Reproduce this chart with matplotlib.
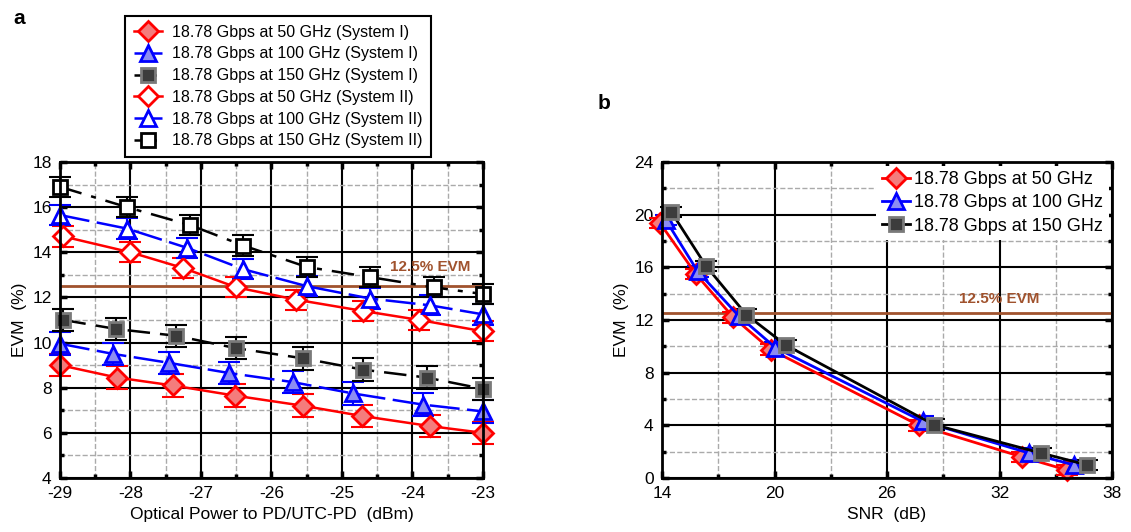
import matplotlib
matplotlib.use("Agg")
import matplotlib.pyplot as plt
from matplotlib.ticker import MultipleLocator

plt.rcParams['font.family'] = ['Liberation Sans', 'DejaVu Sans']
plt.rcParams['axes.unicode_minus'] = False

# ---- panel a data (optical power vs EVM) ----
x_sys1_50 = [-29.0, -28.19, -27.4, -26.52, -25.55, -24.72, -23.75, -23.0]
x_sys1_100 = [-29.0, -28.25, -27.45, -26.6, -25.7, -24.85, -23.85, -23.0]
x_sys1_150 = [-28.95, -28.2, -27.35, -26.5, -25.55, -24.7, -23.8, -23.0]
x_sys2_50 = [-28.95, -28.0, -27.25, -26.5, -25.65, -24.7, -23.9, -23.0]
x_sys2_100 = [-29.0, -28.05, -27.2, -26.4, -25.5, -24.6, -23.75, -23.0]
x_sys2_150 = [-29.0, -28.05, -27.15, -26.4, -25.5, -24.6, -23.7, -23.0]

evm_sys1_50 = [9.0, 8.45, 8.1, 7.65, 7.2, 6.75, 6.3, 6.0]
evm_sys1_100 = [9.95, 9.5, 9.1, 8.65, 8.25, 7.75, 7.25, 6.95]
evm_sys1_150 = [11.0, 10.6, 10.3, 9.75, 9.3, 8.8, 8.45, 7.95]
evm_sys2_50 = [14.7, 14.0, 13.3, 12.45, 11.9, 11.4, 11.0, 10.5]
evm_sys2_100 = [15.65, 15.05, 14.2, 13.25, 12.5, 11.95, 11.65, 11.25]
evm_sys2_150 = [16.9, 16.0, 15.2, 14.3, 13.35, 12.9, 12.45, 12.15]

err_sys1 = 0.5
err_sys2 = 0.45

# ---- panel b data (SNR vs EVM) ----
snr_50 = [13.9, 15.8, 17.8, 19.8, 27.7, 33.2, 35.6]
snr_100 = [14.2, 15.9, 18.1, 20.05, 27.9, 33.55, 35.95]
snr_150 = [14.5, 16.35, 18.5, 20.6, 28.5, 34.2, 36.65]
evmb_50 = [19.35, 15.5, 12.2, 9.75, 4.0, 1.6, 0.6]
evmb_100 = [19.6, 15.7, 12.3, 9.9, 4.3, 1.9, 1.0]
evmb_150 = [20.2, 16.1, 12.4, 10.1, 4.05, 1.9, 1.0]
err_b = 0.4

snr_ticks = [14, 20, 26, 32, 38]
snr_minor = [17, 23, 29, 35]

evm_limit = 12.5

RED = '#ff0000'
BLUE = '#0000ff'
BROWN = '#a0522d'
SQ_FILL = '#3c3c3c'
SQ_EDGE = '#7a7a7a'

fig = plt.figure(figsize=(11.31, 5.32), dpi=100)
ax1 = fig.add_axes([0.053, 0.1015, 0.374, 0.594])
ax2 = fig.add_axes([0.5853, 0.1015, 0.398, 0.594])


def style_axes(ax):
    ax.grid(which='major', color='black', linestyle='-', linewidth=1.5)
    ax.grid(which='minor', color='#aaaaaa', linestyle='--', linewidth=1)
    ax.set_axisbelow(True)
    ax.tick_params(which='both', direction='in', top=True, right=True,
                   width=2.5, labelsize=12.5, pad=6)
    ax.tick_params(which='major', length=5)
    ax.tick_params(which='minor', length=3)
    for s in ax.spines.values():
        s.set_linewidth(2)
        s.set_zorder(6)


def series(ax, x, y, err, marker, ms, fc, ec, lc, ls, label, lw=1.8):
    ax.errorbar(x, y, yerr=err, fmt='none', ecolor=lc, elinewidth=1.5,
                capsize=8, capthick=1.5, zorder=3, clip_on=False)
    ax.plot(x, y, marker=marker, ms=ms, mfc=fc, mec=ec, mew=2, color=lc,
            linestyle=ls, linewidth=lw, label=label, zorder=4, clip_on=False)


# panel a
series(ax1, x_sys1_50, evm_sys1_50, err_sys1, 'D', 10.5, '#f47c7c', RED, RED, '-',
       '18.78 Gbps at 50 GHz (System I)')
series(ax1, x_sys1_100, evm_sys1_100, err_sys1, '^', 12, '#8c8cf2', BLUE, BLUE, (0, (12, 3)),
       '18.78 Gbps at 100 GHz (System I)')
series(ax1, x_sys1_150, evm_sys1_150, err_sys1, 's', 10, SQ_FILL, SQ_EDGE, 'black', (0, (9, 4)),
       '18.78 Gbps at 150 GHz (System I)')
series(ax1, x_sys2_50, evm_sys2_50, err_sys2, 'D', 10.5, 'white', RED, RED, '-',
       '18.78 Gbps at 50 GHz (System II)')
series(ax1, x_sys2_100, evm_sys2_100, err_sys2, '^', 12, 'white', BLUE, BLUE, (0, (12, 3)),
       '18.78 Gbps at 100 GHz (System II)')
series(ax1, x_sys2_150, evm_sys2_150, err_sys2, 's', 10, 'white', 'black', 'black', (0, (9, 4, 2, 4)),
       '18.78 Gbps at 150 GHz (System II)')

ax1.axhline(evm_limit, color=BROWN, linewidth=2, zorder=2)
ax1.text(-23.75, 13.35, '12.5% EVM', color=BROWN, fontsize=11, fontweight='bold',
         ha='center', va='center')

ax1.set_xlim(-29, -23)
ax1.set_ylim(4, 18)
ax1.xaxis.set_major_locator(MultipleLocator(1))
ax1.xaxis.set_minor_locator(MultipleLocator(0.5))
ax1.yaxis.set_major_locator(MultipleLocator(2))
ax1.yaxis.set_minor_locator(MultipleLocator(1))
style_axes(ax1)
ax1.set_xlabel('Optical Power to PD/UTC-PD  (dBm)', fontsize=12.5)
ax1.set_ylabel('EVM  (%)', fontsize=12.5)

h, l = ax1.get_legend_handles_labels()
leg1 = fig.legend(h, l, loc='upper left', bbox_to_anchor=(0.1034, 0.985),
                  fontsize=11.5, handlelength=1.8, handletextpad=0.6,
                  labelspacing=0.42, borderpad=0.55, fancybox=False,
                  edgecolor='black', framealpha=1)
leg1.get_frame().set_linewidth(1.5)

# panel b
series(ax2, snr_50, evmb_50, err_b, 'D', 10.5, '#f47c7c', RED, RED, '-', '18.78 Gbps at 50 GHz', lw=2)
series(ax2, snr_100, evmb_100, err_b, '^', 12, '#8c8cf2', BLUE, BLUE, '-', '18.78 Gbps at 100 GHz', lw=2)
series(ax2, snr_150, evmb_150, err_b, 's', 10, SQ_FILL, SQ_EDGE, 'black', '-', '18.78 Gbps at 150 GHz', lw=2)

ax2.axhline(evm_limit, color=BROWN, linewidth=2, zorder=2)
ax2.text(32, 13.6, '12.5% EVM', color=BROWN, fontsize=11, fontweight='bold',
         ha='center', va='center')

ax2.set_xlim(14, 38)
ax2.set_ylim(0, 24)
ax2.set_xticks(snr_ticks)
ax2.set_xticks(snr_minor, minor=True)
ax2.yaxis.set_major_locator(MultipleLocator(4))
ax2.yaxis.set_minor_locator(MultipleLocator(2))
style_axes(ax2)
ax2.set_xlabel('SNR  (dB)', fontsize=12.5)
ax2.set_ylabel('EVM  (%)', fontsize=12.5)

leg2 = ax2.legend(loc='upper right', fontsize=13, handlelength=1.6,
                  handletextpad=0.2, labelspacing=0.35, borderpad=0.3,
                  borderaxespad=0.2, fancybox=False, edgecolor='none',
                  framealpha=1)

fig.text(0.012, 0.955, 'a', fontsize=15, fontweight='bold')
fig.text(0.528, 0.795, 'b', fontsize=15, fontweight='bold')

fig.savefig('out.png', dpi=100)
